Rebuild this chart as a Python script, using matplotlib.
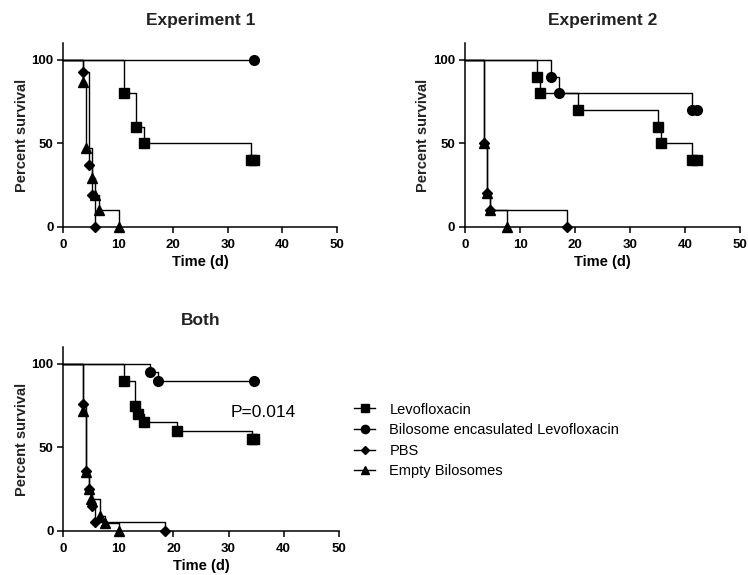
import matplotlib
matplotlib.use("Agg")
import matplotlib.pyplot as plt
from matplotlib.lines import Line2D

plt.rcParams["font.family"] = ["Liberation Sans", "DejaVu Sans"]

# Experiment 1
E1_LEVO_T = [0, 11.1, 13.2, 14.7, 34.2, 34.8]
E1_LEVO_S = [100, 80, 60, 50, 40, 40]
E1_BIL_T = [0, 34.8]
E1_BIL_S = [100, 100]
E1_PBS_T = [0, 3.5, 4.6, 5.2, 5.7]
E1_PBS_S = [100, 93, 37, 19, 0]
E1_EMP_T = [0, 3.5, 4.1, 5.3, 5.7, 6.6, 10.1]
E1_EMP_S = [100, 87, 47, 29, 19, 10, 0]

# Experiment 2
E2_LEVO_T = [0, 13.0, 13.6, 20.5, 35.0, 35.6, 41.3, 42.2]
E2_LEVO_S = [100, 90, 80, 70, 60, 50, 40, 40]
E2_BIL_T = [0, 15.6, 17.1, 41.3, 42.2]
E2_BIL_S = [100, 90, 80, 70, 70]
E2_PBS_T = [0, 3.5, 4.0, 4.5, 18.5]
E2_PBS_S = [100, 50, 20, 10, 0]
E2_EMP_T = [0, 3.5, 4.0, 4.6, 7.6]
E2_EMP_S = [100, 50, 20, 10, 0]

# Both
B_LEVO_T = [0, 11.1, 13.1, 13.6, 14.7, 20.6, 34.2, 34.7]
B_LEVO_S = [100, 90, 75, 70, 65, 60, 55, 55]
B_BIL_T = [0, 15.7, 17.2, 34.6]
B_BIL_S = [100, 95, 90, 90]
B_PBS_T = [0, 3.5, 4.2, 4.7, 5.2, 5.8, 18.5]
B_PBS_S = [100, 76, 36, 25, 15, 5, 0]
B_EMP_T = [0, 3.5, 4.1, 4.6, 5.0, 6.7, 7.6, 10.1]
B_EMP_S = [100, 72, 35, 25, 19, 9, 4.5, 0]

LABELS = ["Levofloxacin", "Bilosome encasulated Levofloxacin", "PBS", "Empty Bilosomes"]
MARKERS = ["s", "o", "D", "^"]
MSIZES = [7, 7, 5, 7]
XTICKS = [0, 10, 20, 30, 40, 50]
YTICKS = [0, 50, 100]


def draw_panel(ax, series, title, title_pad):
    for (t, s), mk, ms in zip(series, MARKERS, MSIZES):
        ax.step(t, s, where="post", color="black", lw=1.0, clip_on=False)
        ax.plot(t[1:], s[1:], marker=mk, ms=ms, ls="none", color="black", clip_on=False)
    ax.set_xlim(0, 50)
    ax.set_ylim(0, 110)
    ax.set_xticks(XTICKS)
    ax.set_yticks(YTICKS)
    ax.spines["top"].set_visible(False)
    ax.spines["right"].set_visible(False)
    ax.spines["left"].set_linewidth(1.1)
    ax.spines["bottom"].set_linewidth(1.1)
    ax.tick_params(direction="out", length=4, width=1.1, labelsize=9.5, pad=3)
    ax.tick_params(axis="x", pad=5)
    for lab in ax.get_xticklabels() + ax.get_yticklabels():
        lab.set_fontweight("bold")
    ax.set_xlabel("Time (d)", fontsize=10.5, fontweight="bold", labelpad=3)
    ax.set_ylabel("Percent survival", fontsize=10.5, fontweight="bold", labelpad=2,
                  color="#222222")
    ax.set_title(title, fontsize=12.5, fontweight="bold", pad=title_pad, color="#222222")


fig = plt.figure(figsize=(7.48, 5.75), dpi=100)
ax1 = fig.add_axes([0.0847, 0.6058, 0.366, 0.319])
ax2 = fig.add_axes([0.6217, 0.6058, 0.3676, 0.319])
ax3 = fig.add_axes([0.0847, 0.077, 0.368, 0.319])

draw_panel(ax1, [(E1_LEVO_T, E1_LEVO_S), (E1_BIL_T, E1_BIL_S),
                 (E1_PBS_T, E1_PBS_S), (E1_EMP_T, E1_EMP_S)], "Experiment 1", 13)
draw_panel(ax2, [(E2_LEVO_T, E2_LEVO_S), (E2_BIL_T, E2_BIL_S),
                 (E2_PBS_T, E2_PBS_S), (E2_EMP_T, E2_EMP_S)], "Experiment 2", 13)
draw_panel(ax3, [(B_LEVO_T, B_LEVO_S), (B_BIL_T, B_BIL_S),
                 (B_PBS_T, B_PBS_S), (B_EMP_T, B_EMP_S)], "Both", 16)

ax3.text(30.3, 71, "P=0.014", fontsize=12.5, ha="left", va="center")

handles = [Line2D([], [], color="black", lw=1.0, marker=mk, ms=ms * 0.85)
           for mk, ms in zip(MARKERS, MSIZES)]
fig.legend(handles, LABELS, loc="upper left", bbox_to_anchor=(0.466, 0.31),
           frameon=False, fontsize=10.5, handlelength=1.4, handletextpad=1.0,
           labelspacing=0.45, borderaxespad=0)

fig.savefig("out.png", dpi=100)
